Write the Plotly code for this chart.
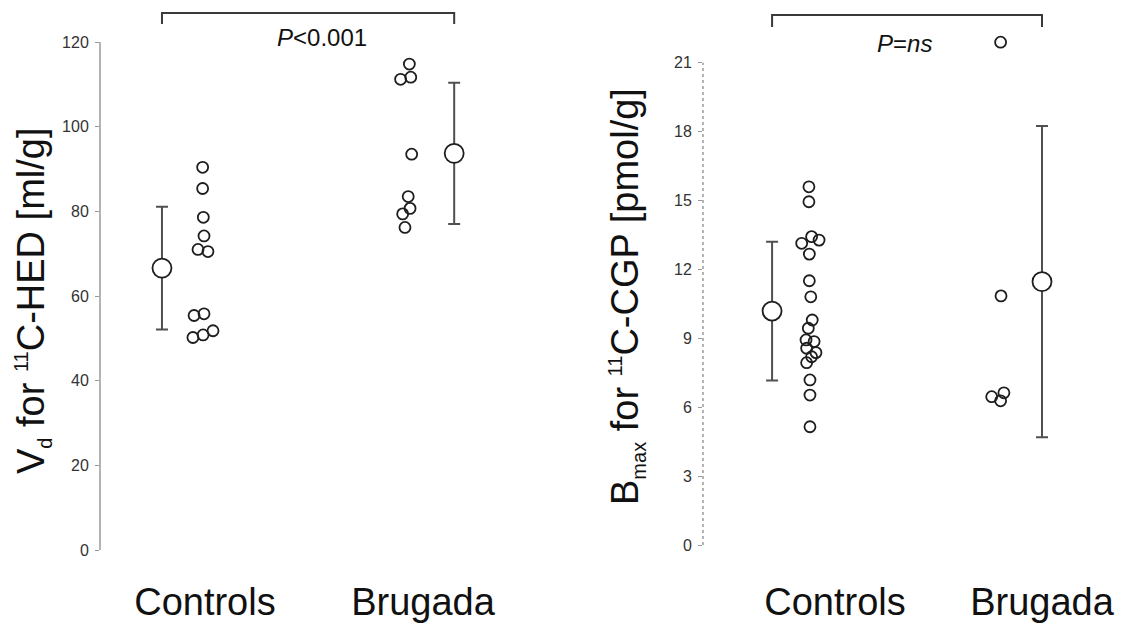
import plotly.graph_objects as go

# ---------------- data ----------------
categories = ["Controls", "Brugada"]

# Left panel: Vd for 11C-HED [ml/g]
hed_controls = [90.4, 85.4, 78.6, 74.2, 71.0, 70.5, 55.4, 55.8, 50.2, 50.8, 51.8]
hed_brugada = [114.8, 111.2, 111.7, 93.5, 83.5, 80.7, 79.4, 76.2]
hed_means = [66.6, 93.7]
hed_sd = [14.5, 16.7]
hed_ticks = [0, 20, 40, 60, 80, 100, 120]
hed_p = "<i>P</i>&lt;0.001"

# Right panel: Bmax for 11C-CGP [pmol/g]
cgp_controls = [15.6, 14.95, 13.14, 13.43, 13.28, 12.67, 11.51, 10.81, 9.80, 9.44,
                8.93, 8.86, 8.57, 8.38, 8.2, 7.94, 7.19, 6.53, 5.15]
cgp_brugada = [21.9, 10.85, 6.46, 6.63, 6.28]
cgp_means = [10.19, 11.47]
cgp_sd = [3.02, 6.78]
cgp_ticks = [0, 3, 6, 9, 12, 15, 18, 21]
cgp_p = "<i>P</i>=<i>ns</i>"

# ---------------- layout helpers (positions / jitter) ----------------
hed_ctrl_jit = [0.046, 0.046, 0.049, 0.052, 0.026, 0.069, 0.009, 0.052, 0.004, 0.048, 0.091]
hed_brug_jit = [-0.059, -0.097, -0.053, -0.049, -0.064, -0.056, -0.088, -0.078]
hed_mean_x = [0.870, 2.135]
hed_tick_x = [1.056, 2.0]

cgp_ctrl_jit = [-0.126, -0.126, -0.161, -0.113, -0.077, -0.124, -0.124, -0.117, -0.110, -0.129,
                -0.140, -0.101, -0.137, -0.092, -0.113, -0.137, -0.121, -0.121, -0.121]
cgp_brug_jit = [-0.200, -0.198, -0.243, -0.184, -0.200]
cgp_mean_x = [0.696, 2.0]
cgp_tick_x = [1.0, 2.0]

FONT = "Liberation Sans, Arial, sans-serif"
PT_COLOR = "#1e1e1e"

W, H = 1125, 626
EW = 1110.0  # effective horizontal extent used for paper fractions


def px(p):
    return p / EW


fig = go.Figure()


def add_panel(ctrl, brug, cj, bj, means, sd, mean_x, xa, ya):
    fig.add_trace(go.Scatter(
        x=[1 + j for j in cj], y=ctrl, mode="markers", xaxis=xa, yaxis=ya,
        marker=dict(symbol="circle-open", size=11, color=PT_COLOR, line=dict(width=1.8)),
        showlegend=False, hoverinfo="y"))
    fig.add_trace(go.Scatter(
        x=[2 + j for j in bj], y=brug, mode="markers", xaxis=xa, yaxis=ya,
        marker=dict(symbol="circle-open", size=11, color=PT_COLOR, line=dict(width=1.8)),
        showlegend=False, hoverinfo="y"))
    fig.add_trace(go.Scatter(
        x=mean_x, y=means, mode="markers", xaxis=xa, yaxis=ya,
        marker=dict(symbol="circle", size=19, color="white",
                    line=dict(width=1.8, color=PT_COLOR)),
        error_y=dict(type="data", array=sd, visible=True, color="#505050",
                     thickness=2, width=6),
        showlegend=False, hoverinfo="y"))


add_panel(hed_controls, hed_brugada, hed_ctrl_jit, hed_brug_jit, hed_means, hed_sd,
          hed_mean_x, "x", "y")
add_panel(cgp_controls, cgp_brugada, cgp_ctrl_jit, cgp_brug_jit, cgp_means, cgp_sd,
          cgp_mean_x, "x2", "y2")

ydom = [66 / H, 1.0]

xcommon = dict(showgrid=False, zeroline=False, showline=False, ticks="",
               tickfont=dict(family=FONT, size=38, color="#111"),
               ticklabelstandoff=16)
ycommon = dict(showgrid=False, zeroline=False, showline=False, ticks="outside",
               ticklen=4, tickcolor="#999", tickwidth=1,
               tickfont=dict(family=FONT, size=16, color="#333"),
               ticklabelstandoff=3)

fig.update_layout(
    width=W, height=H, margin=dict(l=0, r=0, t=0, b=0), autosize=False,
    paper_bgcolor="white", plot_bgcolor="white",
    xaxis=dict(domain=[px(100), px(480)], range=[0.6017, 2.2468],
               tickvals=hed_tick_x, ticktext=categories, **xcommon),
    yaxis=dict(domain=ydom, range=[-2.362, 129.93], tickvals=hed_ticks, **ycommon),
    xaxis2=dict(domain=[px(703), 1.0], range=[0.3623, 2.3285],
                tickvals=cgp_tick_x, ticktext=categories, **xcommon),
    yaxis2=dict(domain=ydom, range=[-0.653, 23.737], tickvals=cgp_ticks,
                anchor="x2", **ycommon),
)
fig.layout.xaxis2.anchor = "y2"

# axis lines (faint, scanned look)
fig.add_shape(type="line", xref="x domain", yref="y", x0=0, x1=0,
              y0=hed_ticks[0], y1=hed_ticks[-1], line=dict(color="#9a9a9a", width=1.5))
fig.add_shape(type="line", xref="x2 domain", yref="y2", x0=0, x1=0,
              y0=cgp_ticks[0], y1=cgp_ticks[-1], line=dict(color="#9a9a9a", width=1.5, dash="dot"))


# significance brackets between group means
def bracket(xref, x0, x1, ytop, ybot):
    fig.add_shape(type="path", xref=xref, yref="paper",
                  path=f"M {x0},{ybot} L {x0},{ytop} L {x1},{ytop} L {x1},{ybot}",
                  line=dict(color="#3a3a3a", width=2))


bracket("x", hed_mean_x[0], hed_mean_x[1], 1 - 13 / H, 1 - 24 / H)
bracket("x2", cgp_mean_x[0], cgp_mean_x[1], 1 - 15 / H, 1 - 27 / H)

fig.add_annotation(x=1.563, y=1 - 37 / H, xref="x", yref="paper", text=hed_p,
                   showarrow=False, font=dict(family=FONT, size=24, color="#111"),
                   xanchor="center", yanchor="middle")
fig.add_annotation(x=1.338, y=1 - 43 / H, xref="x2", yref="paper", text=cgp_p,
                   showarrow=False, font=dict(family=FONT, size=24, color="#111"),
                   xanchor="center", yanchor="middle")

# y-axis titles
SMALL = "<span style='font-size:20px'>{}</span>"
fig.add_annotation(x=px(33), y=1 - 301 / H, xref="paper", yref="paper",
                   text="V<sub>" + SMALL.format("d") + "</sub> for <sup>" + SMALL.format("11")
                        + "</sup>C-HED [ml/g]", textangle=-90,
                   showarrow=False, font=dict(family=FONT, size=38, color="#111"),
                   xanchor="center", yanchor="middle")
fig.add_annotation(x=px(627), y=1 - 297 / H, xref="paper", yref="paper",
                   text="B<sub>" + SMALL.format("max") + "</sub> for <sup>" + SMALL.format("11")
                        + "</sup>C-CGP [pmol/g]", textangle=-90,
                   showarrow=False, font=dict(family=FONT, size=38, color="#111"),
                   xanchor="center", yanchor="middle")

fig.write_html(
    "out.html",
    config={"responsive": False},
    post_script="document.body.style.margin='0';document.body.style.overflow='hidden';",
)
